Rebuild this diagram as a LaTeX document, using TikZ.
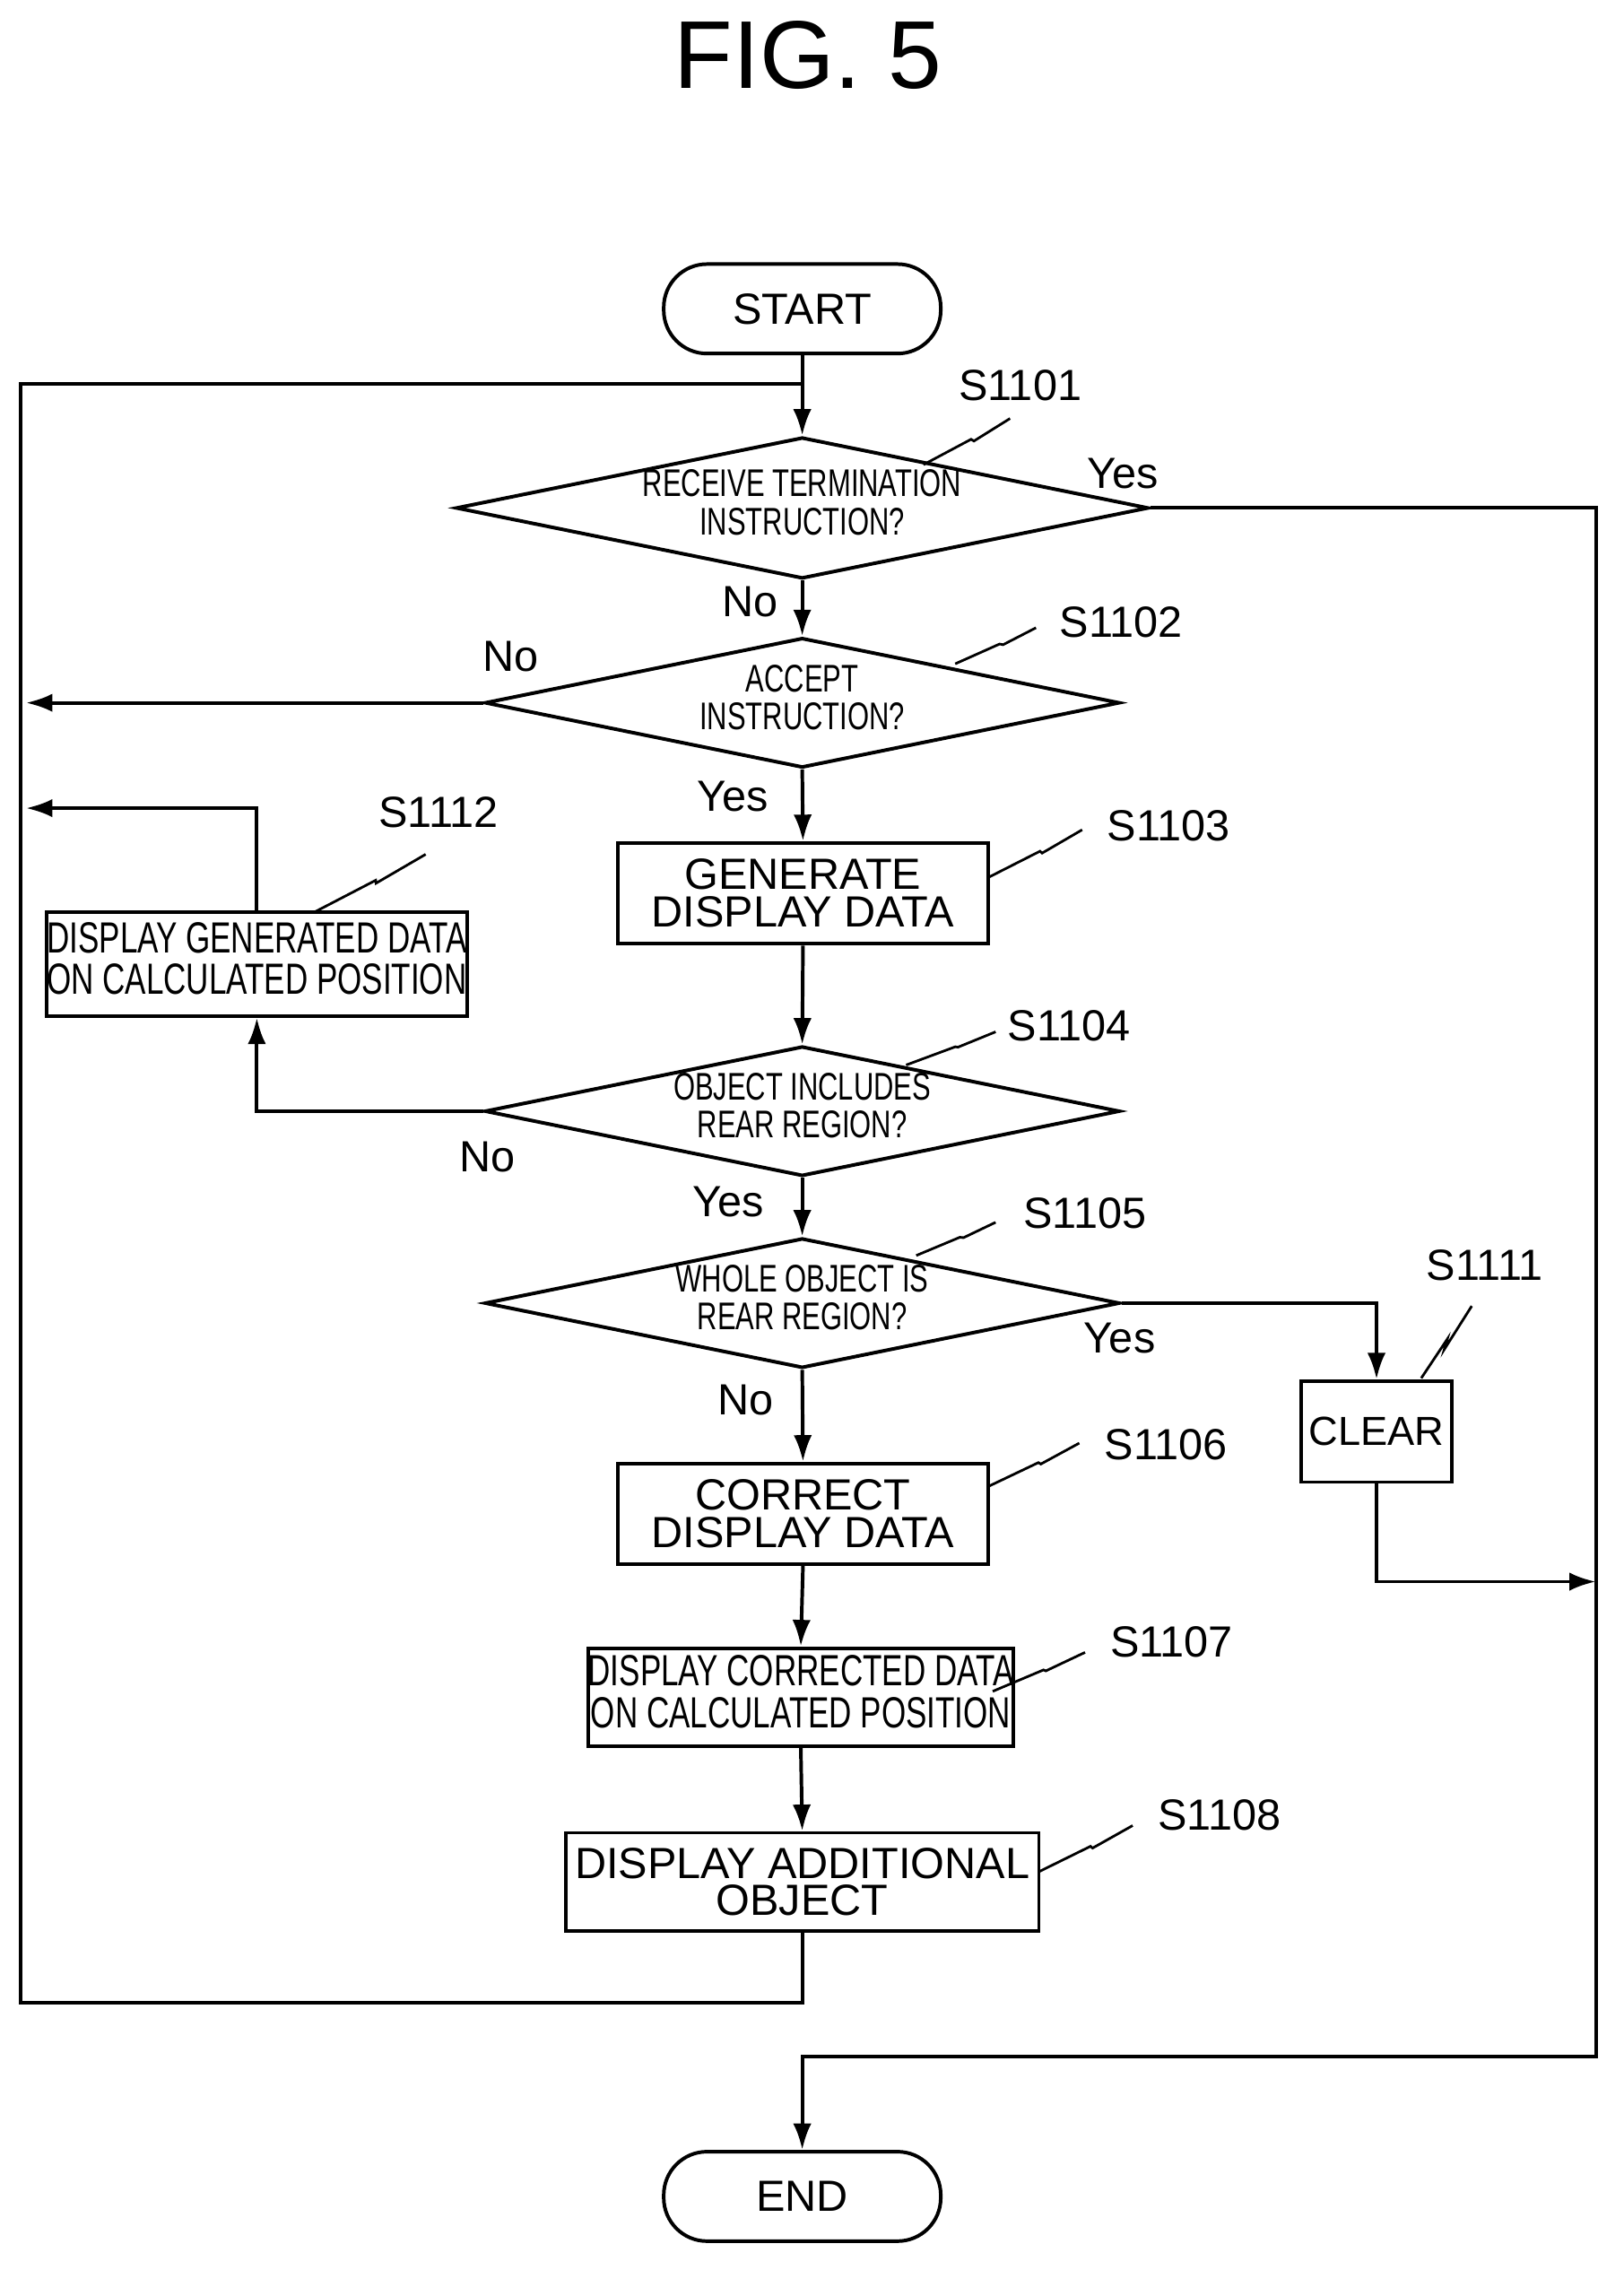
\documentclass[tikz,border=0pt]{standalone}
\usepackage{fontspec}
\setmainfont{Liberation Sans}
\usetikzlibrary{shapes.geometric,arrows.meta}
\newcommand{\cnd}[1]{\scalebox{0.72}[1]{\begin{tabular}{@{}c@{}}#1\end{tabular}}}
\begin{document}
\begin{tikzpicture}[x=0.05cm,y=-0.05cm,
  every path/.style={line width=3.5pt},
  arr/.style={-{Latex[length=26pt,width=18pt]}},
  box/.style={draw,line width=3.5pt,inner sep=0,font=\fontsize{43}{37}\selectfont,align=center},
  dia/.style={draw,shape=diamond,line width=3.5pt,inner sep=0,aspect=4.9,minimum width=22cm,minimum height=4.5cm,font=\fontsize{38}{37}\selectfont},
  term/.style={draw,line width=3.5pt,rounded corners=1.5cm,minimum width=9.6cm,minimum height=3.1cm,font=\fontsize{43}{40}\selectfont},
  lab/.style={font=\fontsize{43}{40}\selectfont,inner sep=0},
  sq/.style={line width=2.5pt}]
\useasboundingbox (0,0) rectangle (1125,1573);
\node[lab,font=\fontsize{95}{95}\selectfont] (title) at (560,38) {FIG. 5};
\node[term] (start) at (556,214) {START};
\node[term] (end) at (556,1522) {END};
\node[dia] (d1) at (556,352) {\cnd{RECEIVE TERMINATION\\INSTRUCTION?}};
\node[dia] (d2) at (556,487) {\cnd{ACCEPT\\INSTRUCTION?}};
\node[box,minimum width=12.85cm,minimum height=3.5cm] (b3) at (556.5,619) {GENERATE\\DISPLAY DATA};
\node[dia] (d4) at (556,770) {\cnd{OBJECT INCLUDES\\REAR REGION?}};
\node[box,minimum width=13.3cm,minimum height=3.6cm] (b12) at (178,668) {\cnd{DISPLAY GENERATED DATA\\ON CALCULATED POSITION}};
\node[dia] (d5) at (556,903) {\cnd{WHOLE OBJECT IS\\REAR REGION?}};
\node[box,minimum width=5.2cm,minimum height=3.5cm,font=\fontsize{40}{37}\selectfont] (b11) at (954,992) {CLEAR};
\node[box,minimum width=12.85cm,minimum height=3.5cm] (b6) at (556.5,1049) {CORRECT\\DISPLAY DATA};
\node[box,minimum width=13.3cm,minimum height=3.4cm] (b7) at (555,1176) {\cnd{DISPLAY CORRECTED DATA\\ON CALCULATED POSITION}};
\node[box,minimum width=16.4cm,minimum height=3.4cm] (b8) at (556,1304) {DISPLAY ADDITIONAL\\OBJECT};
\coordinate (top) at (556,266);
\coordinate (le1) at (18,487);
\coordinate (le2) at (18,560);
\coordinate (ri) at (1106,1096);
\draw (start) -- (top);
\draw[arr] (top) -- (d1.north);
\draw[arr] (d1.south) -- (d2.north);
\draw[arr] (d2.south) -- (b3.north);
\draw[arr] (b3.south) -- (d4.north);
\draw[arr] (d4.south) -- (d5.north);
\draw[arr] (d5.south) -- (b6.north);
\draw[arr] (b6.south) -- (b7.north);
\draw[arr] (b7.south) -- (b8.north);
\draw (b8.south) -- (556,1388) -- (14,1388) -- (14,266) -- (top);
\draw[arr] (d2.west) -- (le1);
\draw[arr] (d4.west) -| (b12.south);
\draw[arr] (b12.north) |- (le2);
\draw[arr] (d5.east) -| (b11.north);
\draw[arr] (b11.south) |- (ri);
\draw[arr] (d1.east) -- (1106,352) -- (1106,1425) -- (556,1425) -- (end.north);
\node[lab] at (778,328) {Yes};
\node[lab] at (520,417) {No};
\node[lab] at (354,455) {No};
\node[lab] at (508,552) {Yes};
\node[lab] at (338,802) {No};
\node[lab] at (505,833) {Yes};
\node[lab] at (776,927) {Yes};
\node[lab] at (517,970) {No};
\node[lab] (s1) at (707,267) {S1101};
\node[lab] (s2) at (777,431) {S1102};
\node[lab] (s3) at (810,572) {S1103};
\node[lab] (s12) at (304,563) {S1112};
\node[lab] (s4) at (741,711) {S1104};
\node[lab] (s5) at (752,841) {S1105};
\node[lab] (s11) at (1029,877) {S1111};
\node[lab] (s6) at (808,1001) {S1106};
\node[lab] (s7) at (812,1138) {S1107};
\node[lab] (s8) at (845,1258) {S1108};
\foreach \x/\y/\u/\v in {640/322/700/290,662/460/718/435,685/608/750/575,218/632/295/592,628/738/690/715,635/870/690/847,685/1030/748/1000,688/1172/752/1145,720/1297/785/1265}{
  \draw[sq] (\x,\y) -- ({\x+0.55*(\u-\x)},{\y+0.55*(\v-\y)}) -- ({\x+0.45*(\u-\x)+8},{\y+0.45*(\v-\y)-2}) -- (\u,\v);}
\draw[sq] (985,955) -- (1003,928) -- (1001,935) -- (1020,905);
\end{tikzpicture}
\end{document}
